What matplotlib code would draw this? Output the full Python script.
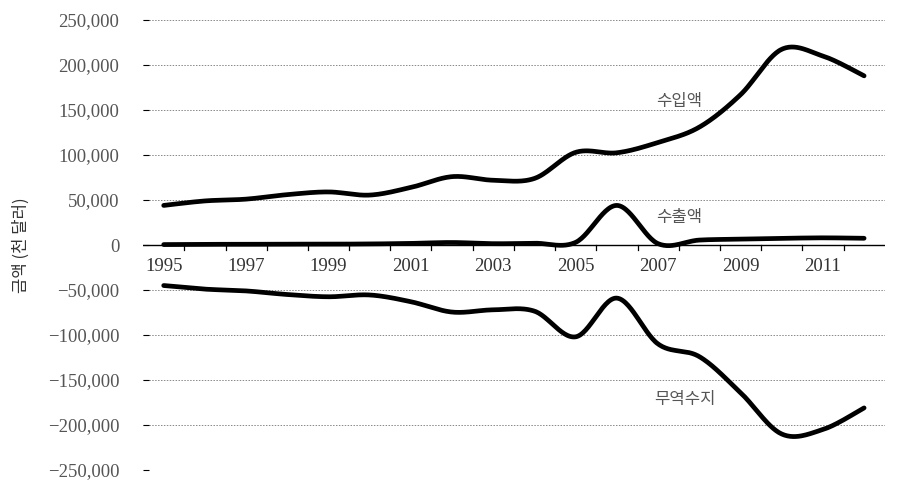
import numpy as np
import matplotlib
matplotlib.use('Agg')
import matplotlib.pyplot as plt

# data (천 달러)
years = list(range(1995, 2013))
imports = [44000, 49000, 51000, 56000, 59000, 55500, 64000, 76000, 72000, 74000,
           103000, 102500, 114000, 131000, 167000, 217500, 210000, 188000]
exports = [500, 800, 800, 1000, 1000, 1200, 1800, 2800, 1500, 2000,
           3000, 44000, 1500, 5500, 6500, 7400, 8000, 7500]
balance = [-45000, -49000, -51000, -55000, -57500, -55500, -63000, -74500, -72000, -73500,
           -102000, -59000, -110000, -124000, -164000, -210000, -205000, -181000]

labels = ['수입액', '수출액', '무역수지']
ylabel = '금액 (천 달러)'
yticks = list(range(-250000, 250001, 50000))

FONT_NUM = ['Liberation Serif', 'DejaVu Serif']
FONT_KR = ['Noto Sans CJK KR', 'DejaVu Sans']
GRAY = '#555555'


def smooth(x, y, n=30):
    # Excel-style smoothed line (Catmull-Rom bezier), drawing only
    x = np.asarray(x, float); y = np.asarray(y, float)
    px = np.concatenate([[x[0]], x, [x[-1]]])
    py = np.concatenate([[y[0]], y, [y[-1]]])
    xs, ys = [], []
    t = np.linspace(0, 1, n)
    for i in range(1, len(px) - 2):
        p0 = np.array([px[i], py[i]])
        p3 = np.array([px[i + 1], py[i + 1]])
        p1 = p0 + (np.array([px[i + 1], py[i + 1]]) - np.array([px[i - 1], py[i - 1]])) / 6
        p2 = p3 - (np.array([px[i + 2], py[i + 2]]) - np.array([px[i], py[i]])) / 6
        b = ((1 - t) ** 3)[:, None] * p0 + (3 * (1 - t) ** 2 * t)[:, None] * p1 \
            + (3 * (1 - t) * t ** 2)[:, None] * p2 + (t ** 3)[:, None] * p3
        xs.extend(b[:, 0]); ys.extend(b[:, 1])
    return xs, ys


fig = plt.figure(figsize=(9, 4.95), dpi=100)
ax = fig.add_axes([0.159, 0.0505, 0.824, 0.909])

x = np.arange(len(years))
for s in (imports, exports, balance):
    sx, sy = smooth(x, s)
    ax.plot(sx, sy, color='black', lw=3.4, solid_capstyle='round', zorder=3)

ax.set_xlim(-0.5, len(years) - 0.5)
ax.set_ylim(-250000, 250000)

# grid
for v in yticks:
    if v != 0:
        ax.axhline(v, color='#888888', lw=0.7, ls=(0, (1.5, 1.5)), zorder=1)
ax.axhline(0, color='black', lw=1.0, zorder=2)

for sp in ax.spines.values():
    sp.set_visible(False)

ax.set_yticks(yticks)
ax.set_yticklabels([f'{v:,}'.replace('-', '\u2212') for v in yticks],
                   family=FONT_NUM, fontsize=13.5, color=GRAY)
ax.tick_params(axis='y', direction='in', length=4, width=0.8, color='black', pad=17)

# x ticks at category boundaries, labels on odd years below zero line
ax.set_xticks([])
for xb in np.arange(1, len(years)) - 0.5:
    ax.plot([xb, xb], [0, -6000], color='black', lw=0.9, zorder=2)
for i, yr in enumerate(years):
    if yr % 2 == 1:
        ax.text(i, -14000, str(yr), ha='center', va='top', family=FONT_NUM,
                fontsize=13.5, color='#333333')

ax.text(12.5, 160000, labels[0], family=FONT_KR, fontsize=12, color=GRAY, ha='center', va='center')
ax.text(12.5, 31000, labels[1], family=FONT_KR, fontsize=12, color=GRAY, ha='center', va='center')
ax.text(12.66, -172000, labels[2], family=FONT_KR, fontsize=12, color=GRAY, ha='center', va='center')

fig.text(0.024, 0.505, ylabel, rotation=90, family=FONT_KR, fontsize=12,
         color='#333333', ha='center', va='center')

fig.savefig('out.png', dpi=100, facecolor='white')
